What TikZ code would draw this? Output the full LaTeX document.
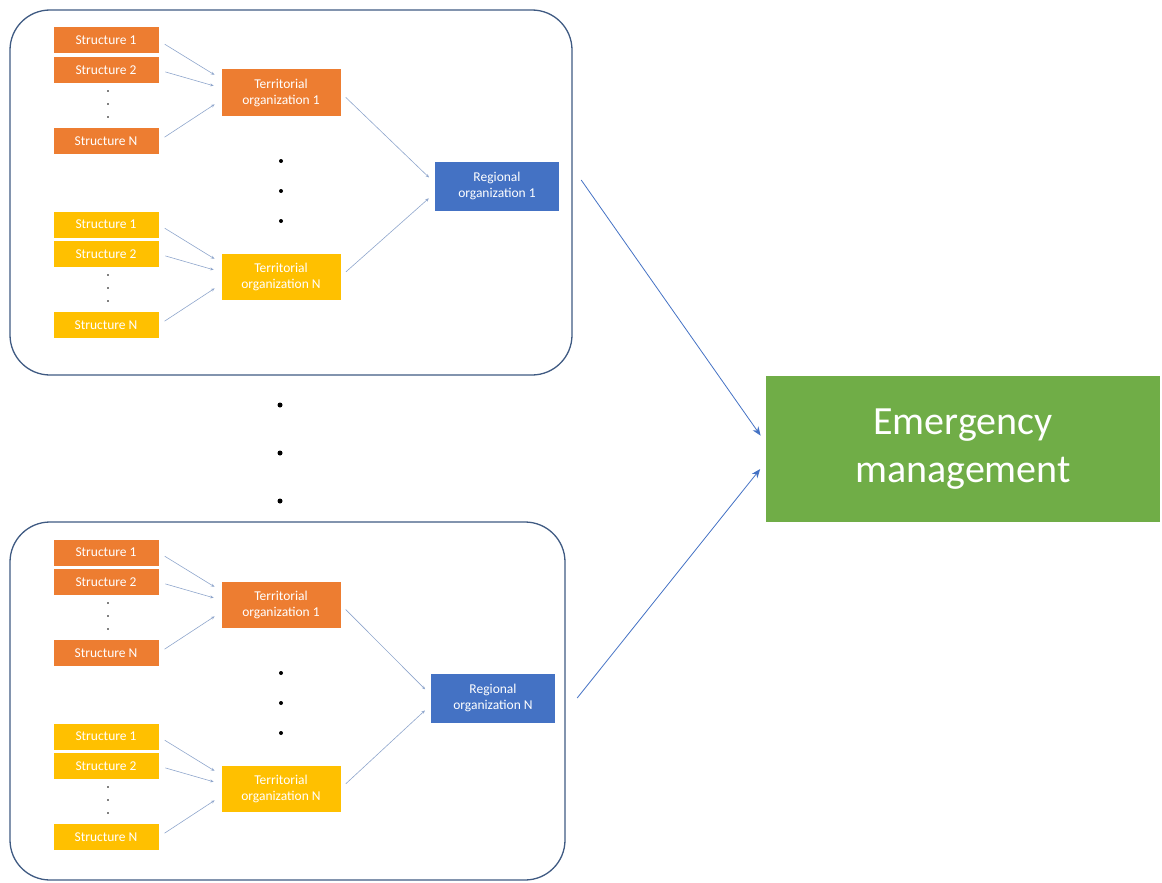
\documentclass[tikz,border=0pt]{standalone}
\usepackage{fontspec}
\setmainfont{Carlito}
\usepackage{tikz}
\usetikzlibrary{positioning,arrows.meta,calc}
\definecolor{orgorange}{HTML}{ED7D31}
\definecolor{orgyellow}{HTML}{FFC000}
\definecolor{orgblue}{HTML}{4472C4}
\definecolor{orggreen}{HTML}{70AD47}
\definecolor{framecol}{HTML}{3F5A82}
\definecolor{feedcol}{HTML}{8FA6CC}
\begin{document}
\begin{tikzpicture}[x=1pt,y=-1pt,
        box/.style={text=white,inner sep=0pt,align=center,font=\fontsize{13.5}{16}\selectfont},
        struct/.style={box,minimum width=105pt,minimum height=26pt},
        terr/.style={box,minimum width=119pt,minimum height=46pt},
        region/.style={box,fill=orgblue,minimum width=124pt,minimum height=49pt},
        frame/.style={draw=framecol,line width=1.3pt,rounded corners=40pt},
        feed/.style={draw=feedcol,line width=0.6pt,-{Stealth[length=3.5pt,width=3pt]},shorten <=7pt,shorten >=8pt},
        main/.style={draw=orgblue,line width=0.8pt,-{Stealth[length=9pt,width=7pt]},shorten >=9pt}]
    \useasboundingbox (0,0) rectangle (1162,883);
    % the two regional blocks
    \foreach \yo/\r/\w/\h/\rx in {0/1/572/375/497,512/N/565/368/493}{
        \begin{scope}[shift={(0,\yo)}]
            \draw[frame] (10,10) rectangle (\w,\h);
            \node[region] (reg\r) at (\rx,186) {Regional\\organization \r};
            \foreach \c/\f/\g/\t in {o/orgorange/0/1,y/orgyellow/184/N}{
                \begin{scope}[shift={(0,\g)}]
                    \node[struct,fill=\f] (s1-\c\r) at (106,40.5) {Structure 1};
                    \node[struct,fill=\f] (s2-\c\r) at (106,70) {Structure 2};
                    \node[struct,fill=\f] (sN-\c\r) at (106,141) {Structure N};
                    \foreach \d in {91,104,117} \fill (108,\d) circle[radius=0.9pt];
                    \node[terr,fill=\f] (t-\c\r) at (281,92.5) {Territorial\\organization \t};
                    \draw[feed] (s1-\c\r.east) -- ([yshift=13.5pt]t-\c\r.west);
                    \draw[feed] (s2-\c\r.east) -- ([yshift=4.5pt]t-\c\r.west);
                    \draw[feed] (sN-\c\r.east) -- ([yshift=-7.5pt]t-\c\r.west);
                \end{scope}
            }
            \foreach \d in {161,191,221} \fill (281,\d) circle[radius=2pt];
            \draw[feed] (t-o\r.east) -- ([yshift=3pt]reg\r.west);
            \draw[feed] (t-y\r.east) -- ([yshift=-7pt]reg\r.west);
        \end{scope}
    }
    \foreach \d in {405,453,501} \fill (280,\d) circle[radius=2.5pt];
    \node[fill=orggreen,text=white,inner sep=0pt,align=center,minimum width=394pt,minimum height=146pt,
        font=\fontsize{40}{48}\selectfont] (em) at (963,449) {Emergency\\management};
    \draw[main] ([xshift=22pt,yshift=6pt]reg1.east) -- ([yshift=6pt]em.west);
    \draw[main] ([xshift=22pt]regN.east) -- ([yshift=-13pt]em.west);
\end{tikzpicture}
\end{document}
